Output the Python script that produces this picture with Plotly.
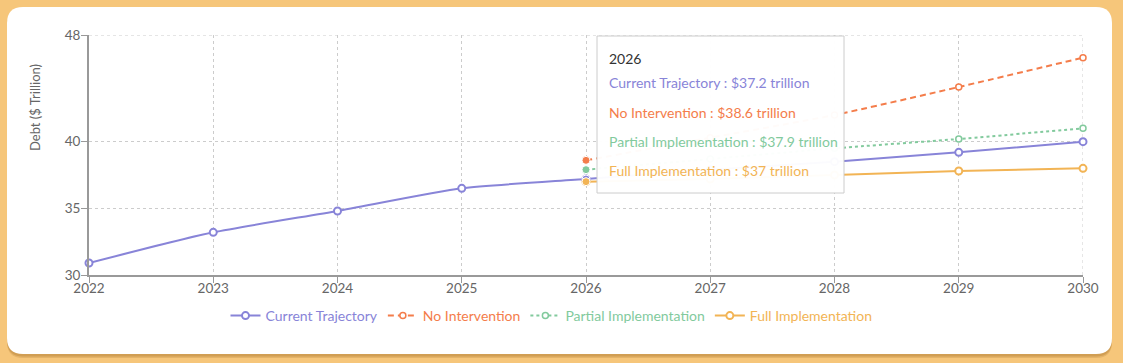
import plotly.graph_objects as go

# ---------------- data ----------------
years = [2022, 2023, 2024, 2025, 2026, 2027, 2028, 2029, 2030]
current_trajectory = [30.9, 33.2, 34.8, 36.5, 37.2, 37.9, 38.5, 39.2, 40.0]
no_intervention = [None, None, None, None, 38.6, 40.3, 42.0, 44.1, 46.3]
partial_implementation = [None, None, None, None, 37.9, 38.7, 39.5, 40.2, 41.0]
full_implementation = [None, None, None, None, 37.0, 37.2, 37.5, 37.8, 38.0]
y_ticks = [30, 35, 40, 48]
x_ticks = years
active_year = 2026

series_names = ["Current Trajectory", "No Intervention", "Partial Implementation", "Full Implementation"]
series_values = [current_trajectory, no_intervention, partial_implementation, full_implementation]
series_colors = ["#8884d8", "#f47d4b", "#82ca9d", "#f2b455"]
series_dash = ["solid", "6px,4px", "3px,3px", "solid"]

FONT = "Lato, 'Noto Sans', sans-serif"

# ---------------- layout geometry (pixels) ----------------
W, H = 1123, 363
ML, MR, MT, MB = 89, 40, 35, 88
PW, PH = W - ML - MR, H - MT - MB


def px(x):
    return (x - ML) / PW


def py(y):
    return (H - MB - y) / PH


def rounded_path(x0, y0, x1, y1, r):
    pts = [
        ("M", [(x0 + r, y0)]),
        ("L", [(x1 - r, y0)]),
        ("Q", [(x1, y0), (x1, y0 + r)]),
        ("L", [(x1, y1 - r)]),
        ("Q", [(x1, y1), (x1 - r, y1)]),
        ("L", [(x0 + r, y1)]),
        ("Q", [(x0, y1), (x0, y1 - r)]),
        ("L", [(x0, y0 + r)]),
        ("Q", [(x0, y0), (x0 + r, y0)]),
    ]
    s = ""
    for cmd, coords in pts:
        s += cmd + " " + " ".join(f"{px(a):.5f},{py(b):.5f}" for a, b in coords) + " "
    return s + "Z"


fig = go.Figure()

for name, vals, col, dash in zip(series_names, series_values, series_colors, series_dash):
    solid = dash == "solid"
    fig.add_trace(go.Scatter(
        x=years, y=vals, name=f"<span style='color:{col}'>{name}</span>",
        mode="lines+markers",
        line=dict(color=col, width=2, dash=dash, shape="spline", smoothing=0.6),
        marker=dict(symbol="circle", size=7 if solid else 6, color="white",
                    line=dict(color=col, width=2 if solid else 1.5)),
        cliponaxis=False, connectgaps=False,
    ))

# active dots at the hovered year
ai = years.index(active_year)
for name, vals, col in zip(series_names, series_values, series_colors):
    fig.add_trace(go.Scatter(
        x=[years[ai]], y=[vals[ai]], mode="markers", showlegend=False,
        marker=dict(size=8, color=col, line=dict(color="white", width=1)),
        cliponaxis=False,
    ))

shapes = []
# card shadow + card
for off, op in [(4, 0.18), (2.5, 0.25)]:
    shapes.append(dict(type="path", xref="paper", yref="paper", layer="below",
                       path=rounded_path(7, 7 + off, 1112, 354 + off, 16),
                       fillcolor=f"rgba(150,95,20,{op})", line=dict(width=0)))
shapes.append(dict(type="path", xref="paper", yref="paper", layer="below",
                   path=rounded_path(7, 7, 1112, 354, 16),
                   fillcolor="white", line=dict(width=0)))
# grid lines at the range edges (plotly skips those)
grid_line = dict(color="#cccccc", width=1, dash="3px,3px")
shapes.append(dict(type="line", xref="x", yref="y", layer="below",
                   x0=years[0], x1=years[-1], y0=y_ticks[-1], y1=y_ticks[-1], line=grid_line))
shapes.append(dict(type="line", xref="x", yref="y", layer="below",
                   x0=years[-1], x1=years[-1], y0=y_ticks[0], y1=y_ticks[-1], line=grid_line))
# tooltip box
shapes.append(dict(type="rect", xref="paper", yref="paper", layer="above",
                   x0=px(597), x1=px(844), y0=py(193), y1=py(36),
                   fillcolor="rgba(255,255,255,0.97)", line=dict(color="#cccccc", width=1)))

annotations = [
    dict(text="Debt ($ Trillion)", textangle=-90, xref="paper", yref="paper",
         x=px(35), y=py(108), xanchor="center", yanchor="middle", showarrow=False,
         font=dict(size=13, color="#666", family=FONT)),
    dict(text=str(active_year), xref="paper", yref="paper", x=px(607), y=py(58),
         xanchor="left", yanchor="middle", showarrow=False,
         font=dict(size=14, color="#333", family=FONT)),
]
for i, (name, vals, col) in enumerate(zip(series_names, series_values, series_colors)):
    v = vals[ai]
    annotations.append(dict(text=f"{name} : ${v:g} trillion", xref="paper", yref="paper",
                            x=px(607), y=py(83 + 29 * i), xanchor="left", yanchor="middle",
                            showarrow=False, font=dict(size=14, color=col, family=FONT)))

fig.update_layout(
    width=W, height=H,
    margin=dict(l=ML, r=MR, t=MT, b=MB, autoexpand=False),
    paper_bgcolor="#f6c67a", plot_bgcolor="rgba(0,0,0,0)",
    font=dict(family=FONT, size=13, color="#666"),
    hovermode=False,
    shapes=shapes, annotations=annotations,
    legend=dict(orientation="h", xref="paper", yref="paper",
                x=px(551.5), y=py(316), xanchor="center", yanchor="middle",
                font=dict(size=14, family=FONT), bgcolor="rgba(0,0,0,0)",
                itemwidth=30, tracegroupgap=0),
    xaxis=dict(range=[years[0], years[-1]], tickvals=x_ticks, ticktext=[str(y) for y in x_ticks],
               showline=True, linecolor="#999", linewidth=2,
               ticks="outside", ticklen=6, tickcolor="#999", ticklabelstandoff=-6,
               showgrid=True, gridcolor="#cccccc", gridwidth=1, griddash="3px,3px",
               zeroline=False, tickfont=dict(size=13.5, color="#666")),
    yaxis=dict(range=[30, 48], tickvals=y_ticks,
               showline=True, linecolor="#999", linewidth=2,
               ticks="outside", ticklen=6, tickcolor="#999", ticklabelstandoff=-2,
               showgrid=True, gridcolor="#cccccc", gridwidth=1, griddash="3px,3px",
               zeroline=False, tickfont=dict(size=13.5, color="#666")),
)

fig.write_html("out.html", config={"displayModeBar": False},
               post_script="document.body.style.margin='0';document.body.style.overflow='hidden';")
